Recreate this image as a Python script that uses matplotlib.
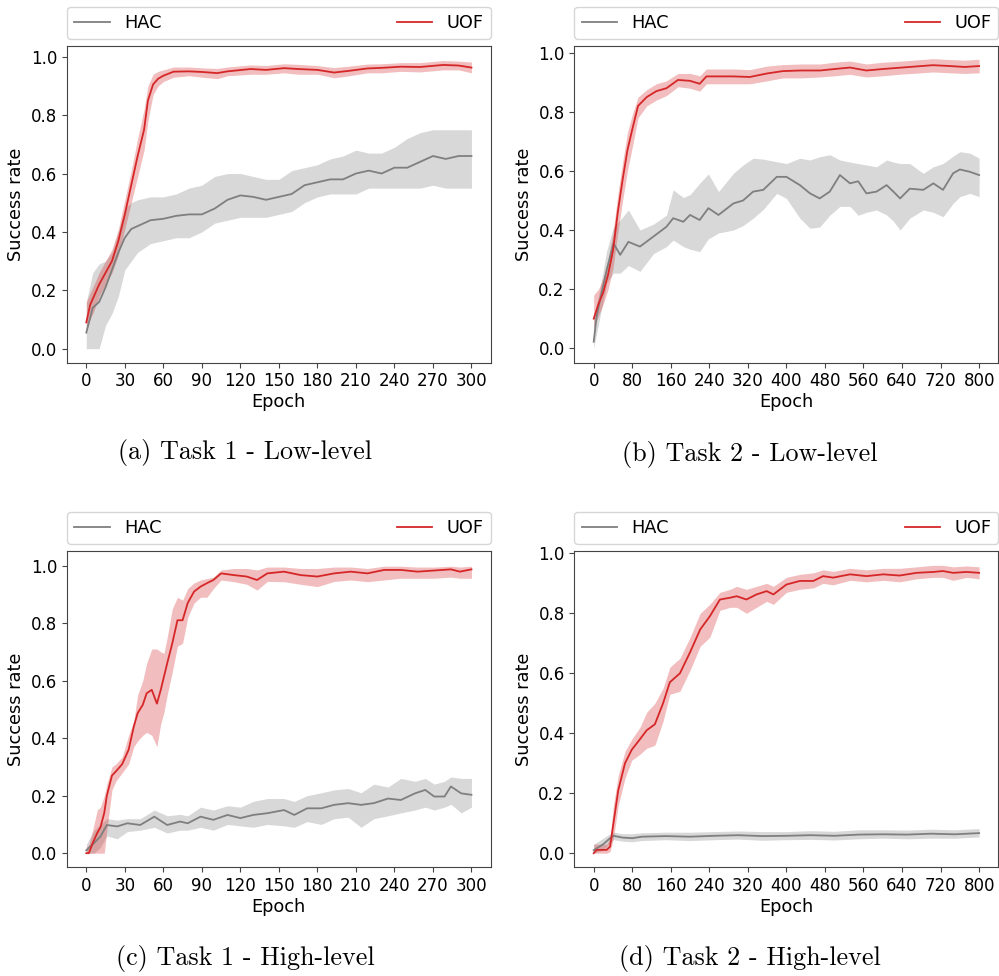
import numpy as np
import matplotlib
matplotlib.use("Agg")
import matplotlib.pyplot as plt

# ---- (a) Task 1 - Low-level ----
a_uof_x = [0, 3, 6, 10, 15, 20, 25, 30, 35, 40, 45, 48, 52, 56, 60, 68, 80, 90, 102, 110, 128, 140, 154, 165, 180, 193, 205, 219, 230, 245, 260, 278, 290, 300]
a_uof_mean = [.09, .15, .18, .22, .26, .30, .37, .46, .56, .66, .75, .85, .905, .925, .935, .949, .95, .948, .944, .95, .958, .955, .961, .958, .955, .946, .952, .96, .962, .966, .965, .972, .97, .963]
a_uof_lo = [.06, .10, .13, .18, .22, .26, .32, .41, .50, .59, .68, .78, .87, .90, .915, .93, .935, .93, .925, .935, .94, .94, .945, .94, .94, .928, .935, .945, .945, .95, .948, .955, .955, .945]
a_uof_hi = [.16, .19, .22, .26, .30, .34, .41, .51, .61, .72, .82, .90, .94, .95, .955, .965, .965, .962, .96, .965, .972, .97, .976, .974, .97, .963, .968, .975, .976, .98, .98, .987, .985, .982]
a_hac_x = [0, 5, 10, 15, 20, 25, 30, 35, 40, 50, 60, 70, 80, 90, 100, 110, 120, 130, 140, 150, 160, 170, 180, 190, 200, 210, 220, 230, 240, 250, 260, 270, 280, 290, 300]
a_hac_mean = [.055, .14, .16, .21, .27, .33, .38, .41, .42, .44, .445, .455, .46, .46, .48, .51, .525, .52, .51, .52, .53, .56, .57, .58, .58, .60, .61, .60, .62, .62, .64, .66, .65, .66, .66]
a_hac_lo = [0, 0, 0, .08, .12, .18, .27, .30, .33, .36, .37, .38, .38, .40, .43, .44, .45, .45, .45, .46, .47, .50, .52, .53, .53, .53, .55, .55, .55, .55, .55, .56, .55, .55, .55]
a_hac_hi = [.16, .26, .29, .30, .33, .40, .48, .50, .51, .52, .52, .53, .55, .56, .59, .60, .60, .59, .58, .58, .61, .62, .63, .65, .66, .68, .67, .67, .69, .72, .74, .75, .75, .75, .75]

# ---- (b) Task 2 - Low-level ----
b_uof_x = [0, 10, 20, 30, 40, 50, 60, 70, 80, 92, 110, 130, 151, 175, 200, 220, 234, 260, 290, 324, 360, 393, 430, 470, 500, 532, 566, 600, 640, 680, 704, 740, 770, 800]
b_uof_mean = [.10, .15, .19, .25, .33, .46, .57, .67, .74, .82, .85, .87, .88, .908, .905, .895, .92, .92, .92, .918, .93, .938, .94, .94, .945, .95, .94, .945, .95, .955, .958, .955, .952, .955]
b_uof_lo = [.07, .11, .15, .20, .27, .39, .50, .60, .68, .78, .82, .84, .855, .885, .88, .87, .895, .895, .895, .895, .905, .915, .915, .918, .922, .927, .918, .922, .928, .932, .935, .932, .93, .932]
b_uof_hi = [.18, .20, .24, .30, .39, .52, .63, .73, .79, .85, .875, .895, .905, .93, .93, .922, .945, .945, .945, .943, .955, .96, .962, .962, .968, .972, .962, .968, .972, .977, .98, .977, .975, .978]
b_hac_x = [0, 6, 13, 27, 41, 55, 72, 96, 124, 151, 165, 186, 200, 220, 238, 259, 290, 310, 331, 352, 380, 400, 428, 449, 469, 490, 511, 532, 549, 566, 587, 608, 622, 636, 656, 684, 705, 725, 746, 760, 781, 800]
b_hac_mean = [.022, .107, .163, .265, .355, .316, .36, .344, .378, .411, .44, .428, .451, .434, .474, .451, .49, .50, .53, .536, .58, .58, .552, .524, .507, .53, .586, .558, .565, .524, .53, .552, .53, .507, .54, .536, .558, .536, .592, .605, .597, .586]
b_hac_lo = [0, .05, .107, .22, .254, .254, .28, .26, .32, .344, .366, .344, .335, .327, .37, .39, .40, .415, .44, .47, .524, .507, .44, .406, .41, .45, .48, .48, .45, .46, .468, .451, .43, .40, .44, .468, .46, .445, .49, .513, .524, .513]
b_hac_hi = [.10, .15, .20, .33, .41, .434, .468, .40, .42, .45, .536, .51, .52, .558, .59, .53, .592, .62, .643, .64, .631, .625, .643, .637, .648, .655, .637, .63, .625, .62, .614, .637, .63, .625, .625, .592, .614, .625, .65, .665, .66, .643]

# ---- (c) Task 1 - High-level ----
c_uof_x = [0, 2, 5, 8.5, 11, 14, 16, 20, 23, 28, 33, 37, 40, 44, 47, 51, 55, 58, 60.5, 63, 67, 71, 75, 79, 84, 89, 94, 99, 105, 115, 125, 133, 141, 154, 167, 180, 193, 206, 219, 232, 245, 258, 271, 284, 291, 300]
c_uof_mean = [0, 0, .035, .07, .09, .14, .20, .27, .284, .31, .36, .44, .487, .516, .556, .568, .52, .568, .614, .66, .73, .81, .81, .87, .91, .927, .939, .95, .973, .967, .962, .95, .973, .979, .967, .962, .973, .979, .973, .985, .985, .979, .983, .987, .979, .987]
c_uof_lo = [0, 0, 0, 0, 0, 0, .08, .22, .25, .28, .31, .37, .39, .41, .42, .41, .37, .45, .49, .55, .63, .72, .73, .82, .87, .89, .89, .92, .95, .944, .935, .915, .945, .944, .935, .927, .945, .95, .944, .95, .956, .956, .956, .96, .956, .956]
c_uof_hi = [.02, .03, .08, .15, .16, .20, .24, .30, .31, .335, .41, .46, .55, .60, .66, .71, .71, .70, .695, .75, .85, .89, .88, .92, .94, .95, .955, .96, .985, .99, .99, .985, .995, .995, .99, .99, .995, .995, .99, .998, .998, .995, .995, .998, .995, .998]
c_hac_x = [0, 6, 11, 16, 24, 32, 42, 53, 63, 73, 79, 89, 99, 110, 120, 130, 141, 154, 162, 172, 183, 193, 204, 214, 224, 235, 245, 256, 264, 271, 279, 284, 292, 300]
c_hac_mean = [.01, .035, .058, .098, .093, .104, .098, .127, .098, .11, .104, .127, .116, .133, .122, .133, .139, .15, .133, .156, .156, .168, .174, .168, .174, .19, .185, .208, .22, .197, .197, .232, .208, .203]
c_hac_lo = [0, 0, .02, .06, .05, .075, .08, .09, .07, .08, .08, .09, .08, .10, .095, .09, .10, .095, .09, .11, .10, .12, .125, .09, .12, .13, .14, .15, .16, .15, .16, .17, .14, .16]
c_hac_hi = [.03, .08, .10, .12, .115, .12, .12, .15, .13, .135, .13, .16, .15, .165, .16, .18, .19, .19, .18, .20, .21, .22, .225, .21, .24, .23, .26, .25, .26, .24, .25, .265, .26, .26]

# ---- (d) Task 2 - High-level ----
d_uof_x = [0, 6, 27, 34, 41, 51, 65, 79, 96, 110, 127, 144, 158, 179, 200, 221, 241, 262, 283, 297, 317, 338, 359, 373, 400, 428, 456, 476, 497, 532, 566, 601, 635, 670, 705, 725, 746, 774, 800]
d_uof_mean = [0, .011, .011, .022, .10, .21, .30, .345, .38, .41, .43, .50, .57, .60, .67, .746, .79, .846, .852, .857, .846, .863, .874, .863, .896, .908, .908, .924, .919, .93, .924, .93, .926, .935, .938, .941, .935, .938, .935]
d_uof_lo = [0, 0, 0, .005, .05, .16, .25, .31, .33, .35, .36, .44, .53, .54, .61, .69, .72, .81, .82, .82, .80, .82, .84, .83, .87, .88, .885, .90, .895, .91, .905, .91, .905, .915, .92, .92, .91, .92, .915]
d_uof_hi = [.03, .03, .03, .05, .16, .26, .34, .38, .42, .47, .50, .55, .62, .65, .72, .80, .83, .87, .88, .89, .88, .89, .90, .89, .92, .93, .935, .945, .94, .95, .945, .95, .95, .955, .96, .96, .955, .958, .955]
d_hac_x = [0, 20, 34, 41, 60, 80, 100, 150, 200, 250, 300, 350, 400, 450, 500, 550, 600, 650, 700, 750, 800]
d_hac_mean = [.01, .03, .05, .058, .052, .05, .055, .057, .055, .058, .06, .057, .058, .06, .058, .062, .063, .062, .065, .063, .067]
d_hac_lo = [0, .01, .035, .045, .04, .038, .042, .045, .042, .045, .047, .043, .045, .046, .044, .048, .05, .048, .05, .05, .054]
d_hac_hi = [.03, .05, .065, .07, .065, .065, .068, .07, .07, .072, .074, .072, .072, .075, .073, .078, .078, .077, .08, .078, .082]

captions = ["(a) Task 1 - Low-level", "(b) Task 2 - Low-level",
            "(c) Task 1 - High-level", "(d) Task 2 - High-level"]

panels = [
    (a_hac_x, a_hac_mean, a_hac_lo, a_hac_hi, a_uof_x, a_uof_mean, a_uof_lo, a_uof_hi),
    (b_hac_x, b_hac_mean, b_hac_lo, b_hac_hi, b_uof_x, b_uof_mean, b_uof_lo, b_uof_hi),
    (c_hac_x, c_hac_mean, c_hac_lo, c_hac_hi, c_uof_x, c_uof_mean, c_uof_lo, c_uof_hi),
    (d_hac_x, d_hac_mean, d_hac_lo, d_hac_hi, d_uof_x, d_uof_mean, d_uof_lo, d_uof_hi),
]
xticks = [np.arange(0, 301, 30), np.arange(0, 801, 80), np.arange(0, 301, 30), np.arange(0, 801, 80)]
ylims = [(-0.048, 1.037), (-0.049, 1.023), (-0.049, 1.051), (-0.047, 1.008)]
rects = [
    [0.0671, 0.6284, 0.4241, 0.3245],
    [0.5750, 0.6284, 0.4244, 0.3245],
    [0.0671, 0.1114, 0.4241, 0.3241],
    [0.5750, 0.1114, 0.4244, 0.3241],
]
cap_pos = [(245 / 999, 1 - 452 / 976), (750 / 999, 1 - 454 / 976),
           (245 / 999, 1 - 958 / 976), (750 / 999, 1 - 958 / 976)]

hac_col = 'tab:gray'
uof_col = 'tab:red'

fig = plt.figure(figsize=(9.99, 9.76), dpi=100)

for i, p in enumerate(panels):
    hx, hm, hl, hh, ux, um, ul, uh = p
    ax = fig.add_axes(rects[i])
    ax.fill_between(hx, hl, hh, color=hac_col, alpha=0.3, linewidth=0)
    ax.plot(hx, hm, color=hac_col, lw=1.3, label='HAC')
    ax.fill_between(ux, ul, uh, color=uof_col, alpha=0.3, linewidth=0)
    ax.plot(ux, um, color=uof_col, lw=1.3, label='UOF')
    ax.set_xticks(xticks[i])
    ax.set_xlim(-0.05 * xticks[i][-1], 1.05 * xticks[i][-1])
    ax.set_yticks(np.arange(0, 1.01, 0.2))
    ax.set_ylim(*ylims[i])
    ax.tick_params(labelsize=12, color='#444444')
    for s in ax.spines.values():
        s.set_color('#444444')
    ax.set_xlabel('Epoch', fontsize=12.8, labelpad=2)
    ax.set_ylabel('Success rate', fontsize=12.8)
    ax.legend(bbox_to_anchor=(0, 1.022, 1, 0.1), loc='lower left', mode='expand',
              ncol=2, borderaxespad=0, fontsize=12.8)
    fig.text(cap_pos[i][0], cap_pos[i][1], captions[i], family='cmr10',
             fontsize=18.8, ha='center', va='center')

fig.savefig('out.png', dpi=100)
